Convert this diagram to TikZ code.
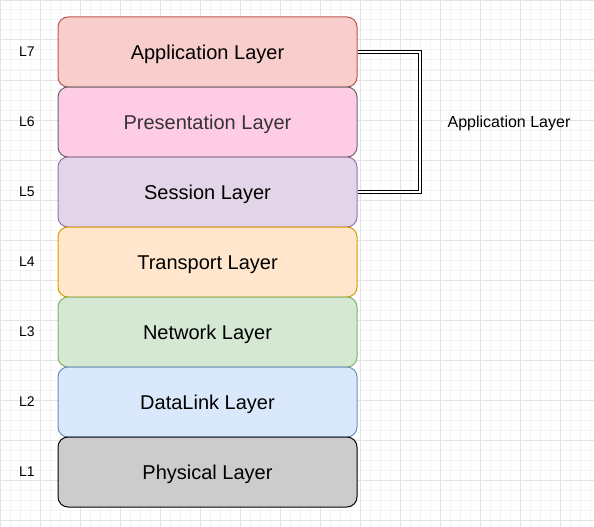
\documentclass[tikz,border=0pt]{standalone}
\usepackage{fontspec}
\setmainfont{Liberation Sans}

\definecolor{appfill}{HTML}{F8CECC}
\definecolor{appdraw}{HTML}{B85450}
\definecolor{prefill}{HTML}{FFCCE6}
\definecolor{predraw}{HTML}{666666}
\definecolor{sesfill}{HTML}{E1D5E7}
\definecolor{sesdraw}{HTML}{9673A6}
\definecolor{trafill}{HTML}{FFE6CC}
\definecolor{tradraw}{HTML}{D79B00}
\definecolor{netfill}{HTML}{D5E8D4}
\definecolor{netdraw}{HTML}{82B366}
\definecolor{datfill}{HTML}{DAE8FC}
\definecolor{datdraw}{HTML}{6C8EBF}
\definecolor{phyfill}{HTML}{CCCCCC}
\definecolor{minorgrid}{HTML}{F3F3F3}
\definecolor{majorgrid}{HTML}{E4E4E4}

\begin{document}
\begin{tikzpicture}[x=1pt,y=-1pt,
  layer/.style={draw, rounded corners=10pt, line width=1pt, minimum width=299pt,
    minimum height=70pt, inner sep=0pt, text height=14.5pt, text depth=0pt,
    font=\fontsize{20}{24}\selectfont},
  lnum/.style={font=\fontsize{14}{17}\selectfont}]

\useasboundingbox (0,0) rectangle (594,527);

\def \lx{207.5};
\def \nx{27};

%\fill[white] (0,0) rectangle (594,527);
\draw[minorgrid, line width=1pt, step=10pt] (0,0) grid (594,527);
\draw[majorgrid, line width=1pt, step=40pt] (0,0) grid (594,527);

\node[layer, fill=appfill, draw=appdraw] (app) at (\lx,52) {Application Layer};
\node[layer, fill=prefill, draw=predraw, text=black!80] (pre) at (\lx,122) {Presentation Layer};
\node[layer, fill=sesfill, draw=sesdraw] (ses) at (\lx,192) {Session Layer};
\node[layer, fill=trafill, draw=tradraw] (tra) at (\lx,262) {Transport Layer};
\node[layer, fill=netfill, draw=netdraw] (net) at (\lx,332) {Network Layer};
\node[layer, fill=datfill, draw=datdraw] (dat) at (\lx,402) {DataLink Layer};
\node[layer, fill=phyfill, draw=black] (phy) at (\lx,472) {Physical Layer};

\node[lnum] (l7) at (\nx,52) {L7};
\node[lnum] (l6) at (\nx,122) {L6};
\node[lnum] (l5) at (\nx,192) {L5};
\node[lnum] (l4) at (\nx,262) {L4};
\node[lnum] (l3) at (\nx,332) {L3};
\node[lnum] (l2) at (\nx,402) {L2};
\node[lnum] (l1) at (\nx,472) {L1};

\node[font=\fontsize{16}{19}\selectfont, text height=11.5pt, text depth=0pt] (upper) at (509,122) {Application Layer};

\draw[double, double distance=2.5pt, line width=1pt] %[very thick]
(app.east) -- ++(62.5,0) |- (ses.east);

\end{tikzpicture}
\end{document}
